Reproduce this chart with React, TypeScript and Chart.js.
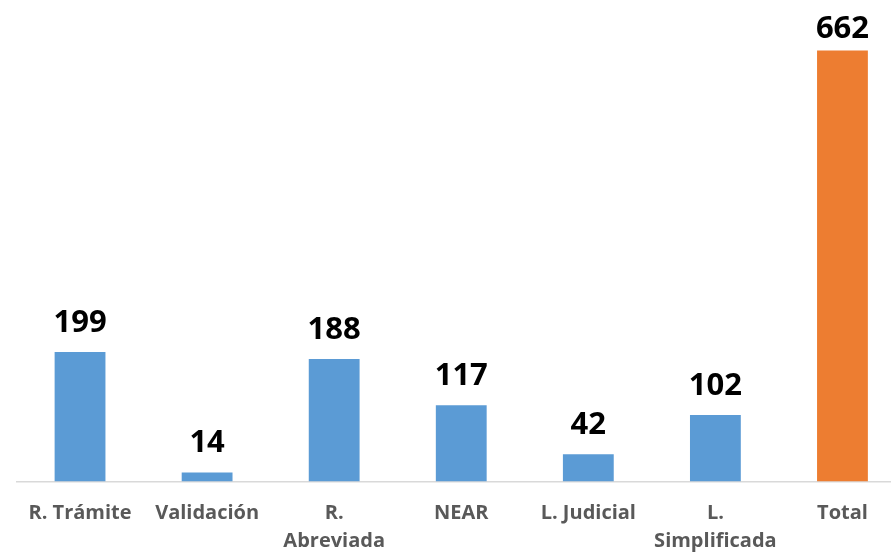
import { useEffect, useRef } from "react";
import { Chart, registerables } from "chart.js";

Chart.register(...registerables);

const categories: (string | string[])[] = [
  "R. Trámite",
  "Validación",
  ["R.", "Abreviada"],
  "NEAR",
  "L. Judicial",
  ["L.", "Simplificada"],
  "Total",
];
const values = [199, 14, 188, 117, 42, 102, 662];
const barColors = ["#5B9BD5", "#5B9BD5", "#5B9BD5", "#5B9BD5", "#5B9BD5", "#5B9BD5", "#ED7D31"];

const valueLabels = {
  id: "valueLabels",
  afterDatasetsDraw(chart: any) {
    const ctx = chart.ctx;
    const meta = chart.getDatasetMeta(0);
    ctx.save();
    ctx.font = "bold 31px 'Open Sans'";
    ctx.fillStyle = "#000000";
    ctx.textAlign = "center";
    ctx.textBaseline = "alphabetic";
    meta.data.forEach((bar: any, i: number) => {
      let y = bar.y - 20;
      if (y < 38) y = 38;
      ctx.fillText(String(values[i]), bar.x, y);
    });
    ctx.restore();
  },
};

export default function App() {
  const ref = useRef<HTMLCanvasElement | null>(null);
  useEffect(() => {
    document.body.style.overflow = "hidden";
    const canvas = ref.current!;
    const chart = new Chart(canvas, {
      type: "bar",
      data: {
        labels: categories,
        datasets: [
          {
            data: values,
            backgroundColor: barColors,
            categoryPercentage: 1,
            barPercentage: 0.4,
          },
        ],
      },
      options: {
        animation: false,
        responsive: false,
        devicePixelRatio: 1,
        layout: { padding: { left: 16.5, right: 0, top: 25.8, bottom: 0 } },
        plugins: { legend: { display: false }, tooltip: { enabled: false } },
        scales: {
          x: {
            grid: { display: false, drawTicks: false },
            border: { display: true, color: "#D9D9D9", width: 1.5 },
            ticks: {
              color: "#595959",
              font: { family: "'Open Sans'", weight: "bold", size: 20, lineHeight: 1.4 },
              padding: 18,
              maxRotation: 0,
              autoSkip: false,
            },
            afterFit: (scale: any) => {
              scale.height = 72.5;
            },
          },
          y: {
            display: false,
            min: 0,
            max: 700,
          },
        },
      },
      plugins: [valueLabels],
    });
    return () => chart.destroy();
  }, []);
  return (
    <div style={{ position: "fixed", left: 0, top: 0, width: 906, height: 554, background: "#fff" }}>
      <canvas ref={ref} width={906} height={554} style={{ display: "block" }} />
    </div>
  );
}
